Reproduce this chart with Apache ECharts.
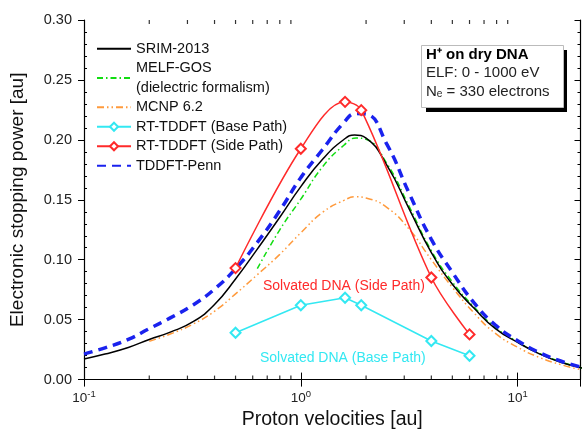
<!DOCTYPE html>
<html style="height: 100%">
<head>
<meta charset="utf-8">
<script src="https://cdn.jsdelivr.net/npm/echarts@6/dist/echarts.min.js"></script>
</head>
<body style="height: 100%; margin: 0; background: #fff">
<div id="container" style="width: 583px; height: 435px"></div>
<script type="text/javascript">
var FONT = '"Liberation Sans", Arial, sans-serif';

// velocities [au] (peak point included for each model curve)
var srimV = [0.1, 0.125, 0.16, 0.2, 0.25, 0.32, 0.4, 0.5, 0.63, 0.8, 1.0, 1.26, 1.58, 1.77, 2.0, 2.5, 3.16, 4.0, 5.0, 6.3, 7.9, 10, 12.6, 15.8, 20];
var srimS = [0.0172, 0.0213, 0.0268, 0.0335, 0.0396, 0.0485, 0.0626, 0.0839, 0.1089, 0.1354, 0.161, 0.1838, 0.2003, 0.204, 0.2015, 0.1785, 0.1425, 0.106, 0.0795, 0.0595, 0.0425, 0.031, 0.0215, 0.0145, 0.0095];

var pennV = [0.1, 0.125, 0.16, 0.2, 0.25, 0.32, 0.4, 0.5, 0.63, 0.8, 1.0, 1.26, 1.58, 1.8, 2.0, 2.5, 3.16, 4.0, 5.0, 6.3, 7.9, 10, 12.6, 15.8, 20];
var pennS = [0.0213, 0.0265, 0.0335, 0.0425, 0.0515, 0.0625, 0.0755, 0.0925, 0.1145, 0.141, 0.1685, 0.192, 0.2145, 0.222, 0.2215, 0.196, 0.1555, 0.117, 0.0895, 0.064, 0.0455, 0.0325, 0.0225, 0.0155, 0.01];

var melfV = [0.63, 0.8, 1.0, 1.26, 1.58, 1.8, 2.0, 2.5, 3.16, 4.0, 5.0, 6.3, 7.9, 10, 12.6, 15.8, 20];
var melfS = [0.0925, 0.125, 0.1505, 0.1775, 0.1955, 0.2015, 0.2005, 0.18, 0.1445, 0.1075, 0.0815, 0.0605, 0.0435, 0.0315, 0.0218, 0.0148, 0.0095];

var mcnpV = [0.2, 0.25, 0.32, 0.4, 0.5, 0.63, 0.8, 1.0, 1.26, 1.58, 1.8, 2.0, 2.5, 3.16, 4.0, 5.0, 6.3, 7.9, 10, 12.6, 15.8, 20];
var mcnpS = [0.032, 0.038, 0.0465, 0.057, 0.0715, 0.0875, 0.1045, 0.1225, 0.1395, 0.1495, 0.1525, 0.1515, 0.1435, 0.1255, 0.1, 0.077, 0.0555, 0.0385, 0.027, 0.0185, 0.0125, 0.008];

var tddftV = [0.5, 1.0, 1.6, 1.9, 4.0, 6.0];
var baseS = [0.0391, 0.062, 0.0683, 0.062, 0.0322, 0.0199];
var sideS = [0.093, 0.1926, 0.2317, 0.2248, 0.0852, 0.0377];

var xMinorTicks = [0.2, 0.3, 0.4, 0.5, 0.6, 0.7, 0.8, 0.9, 2, 3, 4, 5, 6, 7, 8, 9];
var xTickExponents = [-1, 0, 1];
var yTicks = [0.00, 0.05, 0.10, 0.15, 0.20, 0.25, 0.30];

function pairs(xs, ys) {
    var out = [];
    for (var i = 0; i < xs.length; i++) out.push([xs[i], ys[i]]);
    return out;
}

var dom = document.getElementById('container');
var myChart = echarts.init(dom, null, {renderer: 'canvas'});

var axisLine = {show: true, lineStyle: {color: '#000', width: 1.2}};
var X_MAX = 19.5;
var noSymbol = {opacity: 0};

option = {
    animation: false,
    textStyle: {fontFamily: FONT},
    grid: {left: 83, right: 2.5, top: 20, bottom: 49},
    legend: {
        orient: 'vertical',
        left: 91,
        top: 34,
        itemWidth: 34,
        itemHeight: 10,
        itemGap: 0,
        textStyle: {fontFamily: FONT, fontSize: 14.5, color: '#111', lineHeight: 19.5},
        data: [
            {name: 'SRIM-2013', itemStyle: noSymbol},
            {name: 'MELF-GOS', itemStyle: noSymbol},
            {name: 'MCNP 6.2', itemStyle: noSymbol},
            'RT-TDDFT (Base Path)',
            'RT-TDDFT (Side Path)',
            {name: 'TDDFT-Penn', itemStyle: noSymbol}
        ],
        formatter: function (n) {
            return n === 'MELF-GOS' ? 'MELF-GOS\n(dielectric formalism)' : n;
        }
    },
    xAxis: [{
        type: 'log',
        logBase: 10,
        min: 0.1,
        max: X_MAX,
        name: 'Proton velocities [au]',
        nameLocation: 'middle',
        nameGap: 27,
        nameTextStyle: {fontFamily: FONT, fontSize: 19.5, color: '#111'},
        axisLine: axisLine,
        axisTick: {inside: true, length: 7, lineStyle: {color: '#000'}},
        splitLine: {show: false},
        axisLabel: {
            margin: 10,
            fontSize: 13.5,
            color: '#222',
            showMaxLabel: false,
            formatter: function (v) {
                var e = Math.round(Math.log10(v));
                if (Math.abs(Math.log10(v) - e) > 1e-6 || xTickExponents.indexOf(e) < 0) return '';
                return '10{s|' + e + '}';
            },
            rich: {s: {fontSize: 9.5, padding: [0, 0, 7, 0], color: '#222', fontFamily: FONT}}
        }
    }, {
        type: 'log',
        logBase: 10,
        min: 0.1,
        max: X_MAX,
        position: 'top',
        axisLine: axisLine,
        axisTick: {inside: true, length: 7, lineStyle: {color: '#000'}},
        axisLabel: {show: false},
        splitLine: {show: false}
    }],
    yAxis: [{
        type: 'value',
        min: 0,
        max: 0.30,
        interval: 0.05,
        name: 'Electronic stopping power [au]',
        nameLocation: 'middle',
        nameGap: 57,
        nameTextStyle: {fontFamily: FONT, fontSize: 19, color: '#111'},
        axisLine: axisLine,
        axisTick: {inside: false, length: 6, lineStyle: {color: '#000'}},
        splitLine: {show: false},
        axisLabel: {
            fontSize: 14.5,
            color: '#222',
            margin: 12,
            formatter: function (v) {
                for (var i = 0; i < yTicks.length; i++) {
                    if (Math.abs(yTicks[i] - v) < 1e-9) return yTicks[i].toFixed(2);
                }
                return '';
            }
        }
    }, {
        type: 'value',
        min: 0,
        max: 0.30,
        interval: 0.05,
        position: 'right',
        axisLine: axisLine,
        axisTick: {inside: true, length: 6, lineStyle: {color: '#000'}},
        minorTick: {show: true, splitNumber: 5, length: 3, lineStyle: {color: '#000'}},
        axisLabel: {show: false},
        splitLine: {show: false}
    }, {
        // inner minor ticks of the left axis
        type: 'value',
        min: 0,
        max: 0.30,
        interval: 0.05,
        position: 'left',
        axisLine: {show: false},
        axisTick: {show: false, inside: true},
        minorTick: {show: true, splitNumber: 5, length: 3, lineStyle: {color: '#000'}},
        axisLabel: {show: false},
        splitLine: {show: false}
    }],
    graphic: [
        {type: 'rect', left: 426, top: 50, shape: {width: 141, height: 62}, style: {fill: '#000'}, z: 100},
        {type: 'rect', left: 421, top: 45, shape: {width: 142, height: 62}, style: {fill: '#fff', stroke: '#bbb', lineWidth: 1}, z: 101},
        {type: 'text', left: 426, top: 47, z: 102, style: {text: 'H⁺ on dry DNA', font: 'bold 15px ' + FONT, fill: '#000'}},
        {type: 'text', left: 426, top: 65, z: 102, style: {text: 'ELF: 0 - 1000 eV', font: '15px ' + FONT, fill: '#222'}},
        {type: 'text', left: 426, top: 84, z: 102, style: {text: 'Nₑ = 330 electrons', font: '15px ' + FONT, fill: '#222'}},
        {type: 'text', left: 263, top: 279, z: 102, style: {text: 'Solvated DNA (Side Path)', font: '14px ' + FONT, fill: '#ff2a2a'}},
        {type: 'text', left: 260, top: 351, z: 102, style: {text: 'Solvated DNA (Base Path)', font: '14px ' + FONT, fill: '#33e8f2'}}
    ],
    series: [
        {
            name: 'SRIM-2013', type: 'line', smooth: 0.5, symbol: 'none',
            lineStyle: {color: '#000', width: 1.5},
            itemStyle: {color: '#000'},
            data: pairs(srimV, srimS), z: 4
        },
        {
            name: 'MELF-GOS', type: 'line', smooth: 0.5, symbol: 'none',
            lineStyle: {color: '#11dd11', width: 1.5, type: [6, 3, 1.5, 3]},
            itemStyle: {color: '#11dd11'},
            data: pairs(melfV, melfS), z: 3
        },
        {
            name: 'MCNP 6.2', type: 'line', smooth: 0.5, symbol: 'none',
            lineStyle: {color: '#ff9a3c', width: 1.5, type: [7, 3, 1.5, 3, 1.5, 3]},
            itemStyle: {color: '#ff9a3c'},
            data: pairs(mcnpV, mcnpS), z: 3
        },
        {
            name: 'RT-TDDFT (Base Path)', type: 'line', symbol: 'emptyDiamond', symbolSize: 10,
            lineStyle: {color: '#33e8f2', width: 1.5},
            itemStyle: {color: '#33e8f2', borderWidth: 1.2},
            data: pairs(tddftV, baseS), z: 5
        },
        {
            name: 'RT-TDDFT (Side Path)', type: 'line', smooth: 0.35, symbol: 'emptyDiamond', symbolSize: 10,
            lineStyle: {color: '#ff2a2a', width: 1.5},
            itemStyle: {color: '#ff2a2a', borderWidth: 1.2},
            data: pairs(tddftV, sideS), z: 5
        },
        {
            name: 'TDDFT-Penn', type: 'line', smooth: 0.5, symbol: 'none',
            lineStyle: {color: '#1a22ee', width: 3.5, type: [9, 6]},
            itemStyle: {color: '#1a22ee'},
            data: pairs(pennV, pennS), z: 4
        },
        {
            type: 'scatter', symbol: 'rect', symbolSize: [1.2, 4], symbolOffset: [0, -2],
            itemStyle: {color: '#000'}, silent: true, clip: false,
            data: xMinorTicks.map(function (v) { return [v, 0]; })
        },
        {
            type: 'scatter', symbol: 'rect', symbolSize: [1.2, 4], symbolOffset: [0, 2],
            itemStyle: {color: '#000'}, silent: true, clip: false,
            data: xMinorTicks.map(function (v) { return [v, 0.30]; })
        }
    ]
};

if (option && typeof option === 'object') {
    myChart.setOption(option, true);
}
</script>
</body>
</html>
